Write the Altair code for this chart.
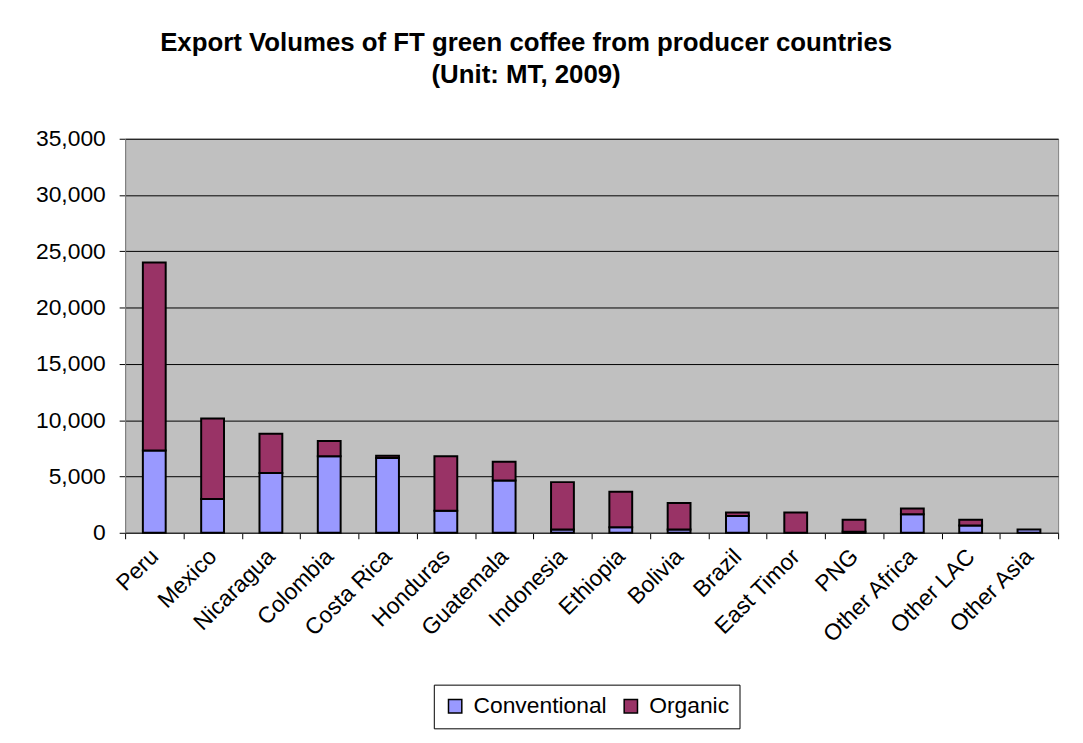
import altair as alt
import pandas as pd

countries = ["Peru", "Mexico", "Nicaragua", "Colombia", "Costa Rica", "Honduras",
             "Guatemala", "Indonesia", "Ethiopia", "Bolivia", "Brazil", "East Timor",
             "PNG", "Other Africa", "Other LAC", "Other Asia"]
conventional = [7300, 3000, 5300, 6800, 6650, 1950, 4650, 300, 500, 300, 1500, 0,
                100, 1650, 650, 300]
organic = [16700, 7150, 3500, 1350, 200, 4850, 1650, 4200, 3150, 2350, 300, 1800,
           1050, 500, 500, 0]
series = ["Conventional", "Organic"]
colors = ["#9999FF", "#993366"]
y_ticks = [0, 5000, 10000, 15000, 20000, 25000, 30000, 35000]

rows = []
for i, c in enumerate(countries):
    rows.append({"country": c, "type": "Conventional", "order": 0, "value": conventional[i]})
    rows.append({"country": c, "type": "Organic", "order": 1, "value": organic[i]})
df = pd.DataFrame(rows)

FONT = "Liberation Sans"

chart = alt.Chart(df).transform_filter(
    alt.datum.value > 0
).mark_bar(size=23, stroke="black", strokeWidth=2).encode(
    x=alt.X("country:N", sort=countries, title=None,
            scale=alt.Scale(paddingInner=0, paddingOuter=0),
            axis=alt.Axis(labelAngle=-45, labelAlign="right", labelBaseline="middle",
                          labelFontSize=23, labelFont=FONT, labelColor="black",
                          labelPadding=14, tickBand="extent", tickSize=6,
                          tickColor="black", domainColor="#333333", grid=False)),
    y=alt.Y("value:Q", stack="zero", title=None,
            scale=alt.Scale(domain=[0, 35000], nice=False),
            axis=alt.Axis(values=y_ticks, format=",d", labelFontSize=23, labelFont=FONT,
                          labelColor="black", tickSize=6, tickColor="black",
                          labelPadding=14, domainColor="#808080",
                          gridColor="black", gridWidth=1, gridOpacity=1)),
    color=alt.Color("type:N", sort=series,
                    scale=alt.Scale(domain=series, range=colors),
                    legend=alt.Legend(title=None, orient="none", legendX=311, legendY=550,
                                      direction="horizontal", strokeColor="black",
                                      fillColor="white", padding=10,
                                      symbolType="square", symbolSize=180,
                                      symbolStrokeColor="black", symbolStrokeWidth=1.5,
                                      labelFontSize=23, labelFont=FONT, labelColor="black",
                                      columnPadding=12, labelOffset=7)),
    order=alt.Order("order:Q")
).properties(
    width=940,
    height=397,
    title=alt.TitleParams(
        text=["Export Volumes of FT green coffee from producer countries", "(Unit: MT, 2009)"],
        fontSize=26, fontWeight="bold", font=FONT, color="black",
        anchor="middle", dx=-66, offset=40, lineHeight=32),
    autosize=alt.AutoSizeParams(type="none"),
    padding={"left": 118, "top": 129, "right": 17, "bottom": 200},
).configure(
    background="white"
).configure_view(
    fill="#C0C0C0", stroke="#808080", strokeWidth=1
)

chart.save("out.html", embed_options={"renderer": "svg", "actions": False})
